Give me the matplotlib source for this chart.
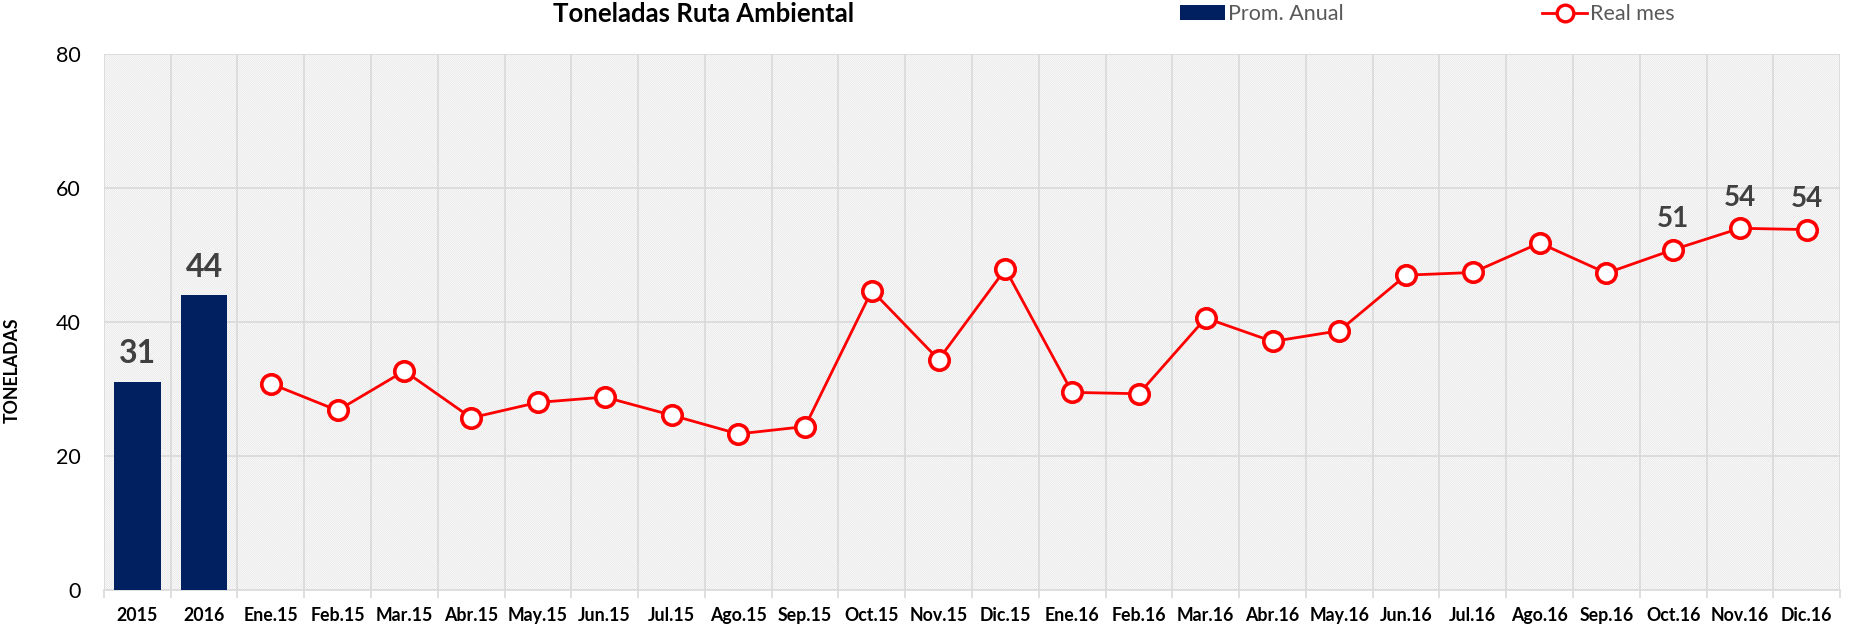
import numpy as np
import matplotlib
matplotlib.use("Agg")
from matplotlib import pyplot as plt
from matplotlib.patches import Rectangle
from matplotlib.lines import Line2D

plt.rcParams['font.family'] = ['Lato', 'DejaVu Sans']
plt.rcParams['hatch.color'] = '#dcdcdc'
plt.rcParams['hatch.linewidth'] = 0.4

# data
years = ['2015', '2016']
prom_anual = [31.1, 44.0]
months = ['Ene.15', 'Feb.15', 'Mar.15', 'Abr.15', 'May.15', 'Jun.15', 'Jul.15',
          'Ago.15', 'Sep.15', 'Oct.15', 'Nov.15', 'Dic.15',
          'Ene.16', 'Feb.16', 'Mar.16', 'Abr.16', 'May.16', 'Jun.16', 'Jul.16',
          'Ago.16', 'Sep.16', 'Oct.16', 'Nov.16', 'Dic.16']
real_mes = [30.8, 26.8, 32.7, 25.7, 28.0, 28.8, 26.1, 23.3, 24.4, 44.7, 34.4, 47.9,
            29.5, 29.3, 40.6, 37.1, 38.7, 47.0, 47.4, 51.8, 47.3, 50.8, 54.0, 53.8]
labelled_months = ['Oct.16', 'Nov.16', 'Dic.16']

cats = years + months
n = len(cats)
xb = np.arange(len(years))
xl = np.arange(len(years), n)

fig = plt.figure()
fig.set_dpi(100)
fig.set_size_inches(18.55, 6.29)
ax = fig.add_axes([0.056, 0.062, 0.936, 0.852])

ax.set_xlim(-0.5, n - 0.5)
ax.set_ylim(0, 80)

# hatched background
bg = Rectangle((0, 0), 1, 1, transform=ax.transAxes, facecolor='white',
               edgecolor='#dcdcdc', hatch='\\' * 16, linewidth=0, zorder=0)
ax.add_patch(bg)

# grid
for yv in [20, 40, 60, 80]:
    ax.axhline(yv, color='#d9d9d9', lw=1.2, zorder=1)
for xv in np.arange(-0.5, n, 1.0):
    ax.axvline(xv, color='#d9d9d9', lw=1.2, zorder=1)

ax.bar(xb, prom_anual, width=0.7, color='#002060', zorder=3)
ax.plot(xl, real_mes, color='#ff0000', lw=2, marker='o', ms=14,
        mfc='white', mec='#ff0000', mew=2.6, zorder=4)

for x, v in zip(xb, prom_anual):
    ax.text(x, v + 2.0, '%d' % round(v), ha='center', va='bottom',
            fontsize=23, fontweight='bold', color='#404040', zorder=5)
for x, m, v in zip(xl, months, real_mes):
    if m in labelled_months:
        ax.text(x, v + 2.6, '%d' % round(v), ha='center', va='bottom',
                fontsize=20, fontweight='bold', color='#404040', zorder=5)

for s in ['top', 'right', 'left']:
    ax.spines[s].set_visible(False)
ax.spines['bottom'].set_color('#d9d9d9')
ax.spines['bottom'].set_linewidth(1.2)

ax.set_xticks(np.arange(n))
ax.set_xticklabels(cats, fontsize=12.8, fontweight='bold', color='black')
ax.set_xticks(np.arange(-0.5, n, 1.0), minor=True)
ax.tick_params(axis='x', which='major', length=0, pad=12)
ax.tick_params(axis='x', which='minor', length=6, color='#d9d9d9', width=1.2)
ax.set_yticks([0, 20, 40, 60, 80])
ax.tick_params(axis='y', length=0, labelsize=15.5, pad=17)
ax.set_ylabel('TONELADAS', fontsize=12.8, fontweight='bold')
ax.yaxis.set_label_coords(-0.048, 0.41)

fig.text(0.3795, 0.977, 'Toneladas Ruta Ambiental', ha='center', va='center',
         fontsize=18.5, fontweight='bold')

handles = [Rectangle((0, 0), 1, 1, facecolor='#002060'),
           Line2D([], [], color='#ff0000', lw=2, marker='o', ms=12,
                  mfc='white', mec='#ff0000', mew=2.4)]
leg = fig.legend(handles, ['Prom. Anual', 'Real mes'], loc='center left',
                 bbox_to_anchor=(0.636, 0.977), ncol=2, frameon=False,
                 fontsize=15.5, columnspacing=9.2, handlelength=2.1,
                 handletextpad=0.15, borderpad=0, borderaxespad=0)
for t in leg.get_texts():
    t.set_color('#595959')

fig.savefig('out.png', dpi=100)
